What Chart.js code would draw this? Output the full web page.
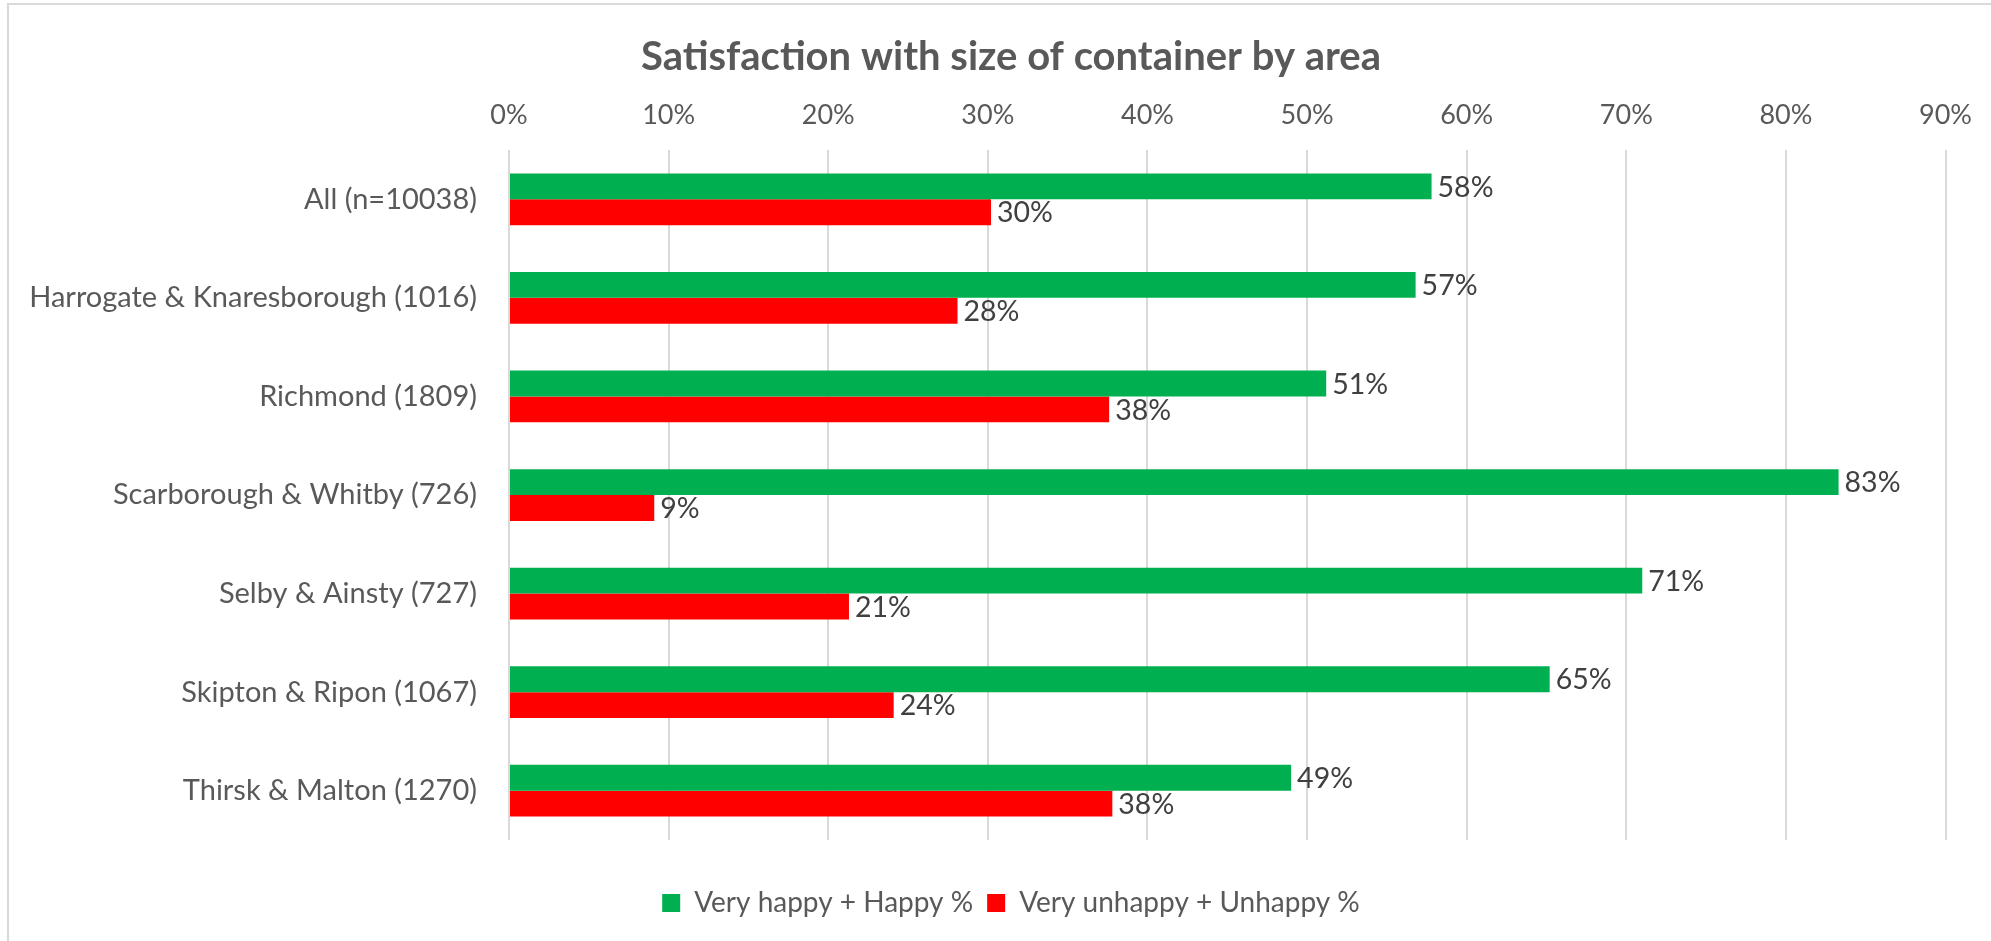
<!DOCTYPE html>
<html>
<head>
<meta charset="utf-8">
<script src="https://cdn.jsdelivr.net/npm/chart.js@4"></script>
<style>
  html, body { margin: 0; padding: 0; background: #fff; }
  #wrap { position: relative; width: 1991px; height: 941px; overflow: hidden; }
  #frame { position: absolute; left: 7px; top: 3px; right: -10px; bottom: -10px; border-top: 2px solid #d9d9d9; border-left: 2px solid #d9d9d9; }
  canvas { position: absolute; left: 0; top: 0; }
</style>
</head>
<body>
<div id="wrap">
  <div id="frame"></div>
  <canvas id="myChart"></canvas>
</div>
<script>
// Datos del gráfico
const areas = [
  'All (n=10038)',
  'Harrogate & Knaresborough (1016)',
  'Richmond (1809)',
  'Scarborough & Whitby (726)',
  'Selby & Ainsty (727)',
  'Skipton & Ripon (1067)',
  'Thirsk & Malton (1270)'
]
const happy = [57.8, 56.8, 51.2, 83.3, 71.0, 65.2, 49.0]
const unhappy = [30.2, 28.1, 37.6, 9.1, 21.3, 24.1, 37.8]
const xTicks = [0, 10, 20, 30, 40, 50, 60, 70, 80, 90]

const textColor = '#595959'
const fontFamily = 'Lato, "Open Sans", sans-serif'

// Etiquetas de valor al final de cada barra
const barLabels = {
  id: 'barLabels',
  afterDatasetsDraw(chart) {
    const c = chart.ctx
    c.save()
    c.font = '28.5px ' + fontFamily
    c.fillStyle = '#404040'
    c.textAlign = 'left'
    c.textBaseline = 'middle'
    chart.data.datasets.forEach((ds, i) => {
      chart.getDatasetMeta(i).data.forEach((bar, j) => {
        c.fillText(Math.round(ds.data[j]) + '%', bar.x + 6, bar.y + 1)
      })
    })
    c.restore()
  }
}

// Centrar título y leyenda como en el original (desplazados a la derecha)
const shiftBlocks = {
  id: 'shiftBlocks',
  afterLayout(chart) {
    const d = 29
    ;[chart.titleBlock, chart.legend].forEach(b => {
      if (b) {
        b.left += d
        b.right += d
      }
    })
  }
}

const ctx = document.getElementById('myChart').getContext('2d')

const myChart = new Chart(ctx, {
  type: 'bar',
  data: {
    labels: areas,
    datasets: [
      {
        label: 'Very happy + Happy %',
        data: happy,
        backgroundColor: '#00b050',
        categoryPercentage: 0.525,
        barPercentage: 1
      },
      {
        label: 'Very unhappy + Unhappy %',
        data: unhappy,
        backgroundColor: '#ff0000',
        categoryPercentage: 0.525,
        barPercentage: 1
      }
    ]
  },
  options: {
    indexAxis: 'y',
    responsive: true,
    maintainAspectRatio: false,
    animation: false,
    layout: { padding: { left: 15, right: 42, top: 0, bottom: 14 } },
    plugins: {
      title: {
        display: true,
        text: 'Satisfaction with size of container by area',
        color: textColor,
        font: { family: fontFamily, size: 40, weight: 'bold' },
        padding: { top: 33, bottom: 10 }
      },
      legend: {
        position: 'bottom',
        title: { display: true, text: '', font: { size: 35, lineHeight: 1 }, padding: 0 },
        labels: {
          color: textColor,
          font: { family: fontFamily, size: 28 },
          boxWidth: 18,
          boxHeight: 18,
          padding: 14
        }
      },
      tooltip: { enabled: false }
    },
    scales: {
      x: {
        type: 'linear',
        position: 'top',
        min: 0,
        max: 90,
        afterBuildTicks: (scale) => {
          scale.ticks = xTicks.map(v => ({ value: v }))
        },
        afterFit: (scale) => {
          scale.height = 150 - 91
        },
        ticks: {
          color: textColor,
          font: { family: fontFamily, size: 27 },
          padding: 19,
          callback: (v) => v + '%'
        },
        grid: { color: '#d9d9d9', lineWidth: 2, drawTicks: false },
        border: { display: false }
      },
      y: {
        afterFit: (scale) => {
          scale.width = 509 - 15
        },
        ticks: {
          color: textColor,
          font: { family: fontFamily, size: 29 },
          padding: 24
        },
        grid: { display: false },
        border: { display: false }
      }
    }
  },
  plugins: [barLabels, shiftBlocks]
})
</script>
</body>
</html>
